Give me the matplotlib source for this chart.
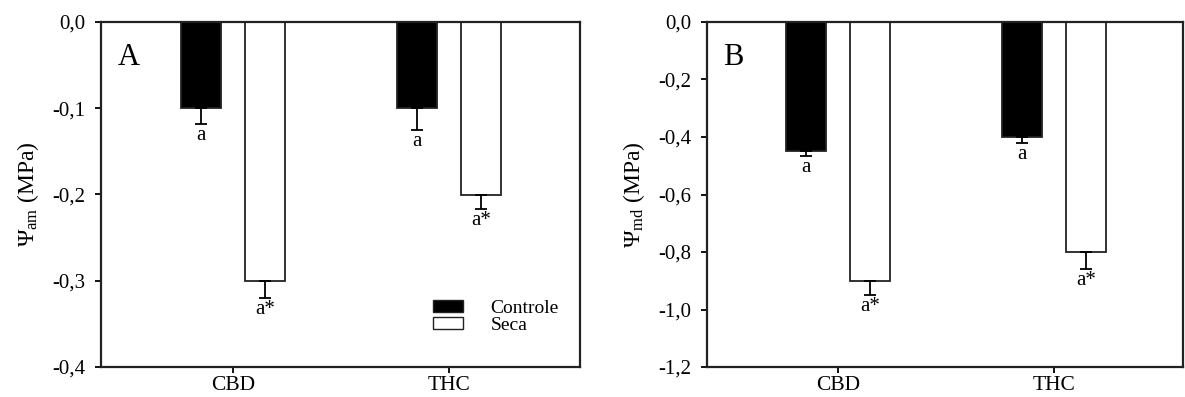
import matplotlib

matplotlib.use("Agg")

import matplotlib.pyplot as plt
import numpy as np
from matplotlib.patches import Patch
from matplotlib.ticker import FuncFormatter, MultipleLocator

plt.rcParams["font.family"] = ["Liberation Serif", "DejaVu Serif"]
plt.rcParams["mathtext.fontset"] = "custom"
plt.rcParams["mathtext.rm"] = "Liberation Serif"
plt.rcParams["mathtext.it"] = "Liberation Serif:italic"

categories = ["CBD", "THC"]
series = ["Controle", "Seca"]

am_controle = [-0.10, -0.10]
am_seca = [-0.30, -0.20]
am_controle_err = [0.018, 0.025]
am_seca_err = [0.020, 0.017]
am_controle_txt = ["a", "a"]
am_seca_txt = ["a*", "a*"]

md_controle = [-0.45, -0.40]
md_seca = [-0.90, -0.80]
md_controle_err = [0.015, 0.022]
md_seca_err = [0.050, 0.060]
md_controle_txt = ["a", "a"]
md_seca_txt = ["a*", "a*"]


def comma(v, pos):
    return f"{v:.1f}".replace(".", ",").replace("-0,0", "0,0")


def draw_panel(ax, ctrl, seca, ctrl_err, seca_err, ctrl_txt, seca_txt,
               ymin, step, xlim, letter, ylabel, legend=False):
    x = np.arange(1, len(categories) + 1)
    w = 0.185
    off = 0.15
    ekw = dict(elinewidth=1.3, capthick=1.3)
    ax.bar(x - off, ctrl, w, color="black", edgecolor="#222222", linewidth=1.3,
           yerr=[list(ctrl_err), [0] * len(ctrl_err)], capsize=4.5,
           error_kw=ekw, label=series[0])
    ax.bar(x + off, seca, w, color="white", edgecolor="#222222", linewidth=1.3,
           yerr=[list(seca_err), [0] * len(seca_err)], capsize=4.5,
           error_kw=ekw, label=series[1])
    span = -ymin
    for xi, v, e, t in zip(x - off, ctrl, ctrl_err, ctrl_txt):
        ax.text(xi, v - e - span * 0.006, t, ha="center", va="top", fontsize=15)
    for xi, v, e, t in zip(x + off, seca, seca_err, seca_txt):
        ax.text(xi, v - e - span * 0.006, t, ha="center", va="top", fontsize=15)

    ax.set_ylim(ymin, 0)
    ax.set_xlim(*xlim)
    ax.yaxis.set_major_locator(MultipleLocator(step))
    ax.yaxis.set_major_formatter(FuncFormatter(comma))
    ax.set_xticks(x)
    ax.set_xticklabels(categories, fontsize=15.5)
    ax.tick_params(axis="y", labelsize=15, direction="out", length=4,
                   width=1.3, pad=7)
    ax.tick_params(axis="x", direction="out", length=4, width=1.3, pad=2.5)
    for s in ax.spines.values():
        s.set_linewidth(1.6)
        s.set_color("#222222")
    ax.set_ylabel(ylabel, fontsize=17, labelpad=8)
    ax.text(0.034, 0.94, letter, transform=ax.transAxes, fontsize=22,
            ha="left", va="top")
    if legend:
        handles = [Patch(facecolor="black", edgecolor="#222222", label=series[0]),
                   Patch(facecolor="white", edgecolor="#222222", label=series[1])]
        ax.legend(handles=handles, loc="upper left", frameon=False,
                  fontsize=14, handlelength=1.55, handleheight=0.52,
                  handletextpad=1.4, labelspacing=0.0, borderpad=0,
                  borderaxespad=0, bbox_to_anchor=(0.693, 0.195))


fig = plt.figure(figsize=(11.85, 3.97), dpi=100)
ax1 = fig.add_axes([101 / 1185, 1 - 367 / 397, 479 / 1185, 345 / 397])
ax2 = fig.add_axes([707 / 1185, 1 - 367 / 397, 476 / 1185, 345 / 397])

draw_panel(ax1, am_controle, am_seca, am_controle_err, am_seca_err,
           am_controle_txt, am_seca_txt, -0.4, 0.1, (0.389, 2.606), "A",
           r"$\Psi_{\rm am}$ (MPa)", legend=True)
draw_panel(ax2, md_controle, md_seca, md_controle_err, md_seca_err,
           md_controle_txt, md_seca_txt, -1.2, 0.2, (0.394, 2.597), "B",
           r"$\Psi_{\rm md}$ (MPa)")

fig.savefig("out.png", dpi=100)
plt.close(fig)
